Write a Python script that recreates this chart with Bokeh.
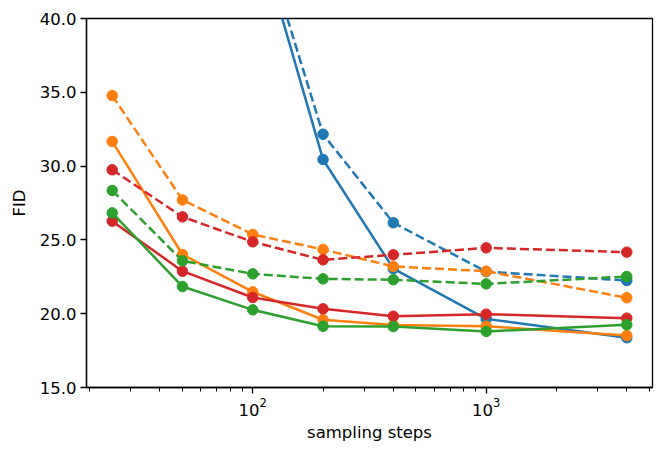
from bokeh.plotting import figure
from bokeh.models import ColumnDataSource, FixedTicker, PrintfTickFormatter, Range1d
from bokeh.embed import file_html
from bokeh.resources import INLINE

steps = [25, 50, 100, 200, 400, 1000, 4000]
blue_steps = [100, 200, 400, 1000, 4000]

blue_solid = [46.9, 30.45, 23.05, 19.65, 18.37]
blue_dashed = [47.6, 32.16, 26.16, 22.85, 22.25]
orange_solid = [31.67, 24.01, 21.48, 19.59, 19.24, 19.15, 18.52]
orange_dashed = [34.78, 27.71, 25.37, 24.35, 23.2, 22.88, 21.08]
red_solid = [26.27, 22.88, 21.1, 20.33, 19.83, 19.97, 19.7]
red_dashed = [29.75, 26.56, 24.87, 23.65, 23.99, 24.46, 24.17]
green_solid = [26.83, 21.84, 20.26, 19.15, 19.13, 18.8, 19.25]
green_dashed = [28.35, 23.58, 22.7, 22.36, 22.3, 22.02, 22.52]

x_major = [100, 1000]
x_minor = [20, 30, 40, 50, 60, 70, 80, 90, 200, 300, 400, 500, 600, 700, 800, 900,
           2000, 3000, 4000, 5000]
y_ticks = [15, 20, 25, 30, 35, 40]

BLUE, ORANGE, GREEN, RED = "#1f77b4", "#ff7f0e", "#2ca02c", "#d62728"

p = figure(frame_width=566, frame_height=369, x_axis_type="log", output_backend="svg",
           toolbar_location=None, x_range=Range1d(19.40, 5156), y_range=Range1d(15, 40),
           min_border_left=86, min_border_right=5, min_border_top=18, min_border_bottom=58)

series = [
    (blue_steps, blue_solid, BLUE, "solid"),
    (blue_steps, blue_dashed, BLUE, "9 4"),
    (steps, orange_solid, ORANGE, "solid"),
    (steps, orange_dashed, ORANGE, "9 4"),
    (steps, red_solid, RED, "solid"),
    (steps, red_dashed, RED, "9 4"),
    (steps, green_solid, GREEN, "solid"),
    (steps, green_dashed, GREEN, "9 4"),
]
for xs, ys, c, dash in series:
    src = ColumnDataSource(dict(x=xs, y=ys))
    p.line("x", "y", source=src, line_color=c, line_width=2.5, line_dash=dash)
    p.scatter("x", "y", source=src, size=10.5, fill_color=c, line_color=c)

p.xgrid.visible = False
p.ygrid.visible = False
p.outline_line_color = "black"
p.outline_line_width = 1.3
p.outline_line_alpha = 1

p.xaxis.ticker = FixedTicker(ticks=x_major, minor_ticks=x_minor)
p.yaxis.ticker = FixedTicker(ticks=y_ticks)
p.yaxis.formatter = PrintfTickFormatter(format="%.1f")
p.xaxis.axis_label = "sampling steps"
p.yaxis.axis_label = "FID"

for ax in (p.xaxis, p.yaxis):
    ax.axis_label_text_font = "DejaVu Sans"
    ax.axis_label_text_font_style = "normal"
    ax.axis_label_text_font_size = "16.5px"
    ax.axis_label_text_color = "black"
    ax.major_label_text_font = "DejaVu Sans"
    ax.major_label_text_font_size = "16.5px"
    ax.major_label_text_color = "black"
    ax.axis_line_color = "black"
    ax.axis_line_width = 1.3
    ax.major_tick_line_color = "black"
    ax.major_tick_line_width = 1.3
    ax.major_tick_out = 6
    ax.major_tick_in = 0
    ax.minor_tick_line_color = "black"
    ax.minor_tick_line_width = 1.0
    ax.minor_tick_out = 4
    ax.minor_tick_in = 0
    ax.major_label_standoff = 4
p.yaxis.minor_tick_line_color = None
p.xaxis.axis_label_standoff = 4
p.yaxis.axis_label_standoff = 8

open("out.html", "w").write(file_html(p, INLINE))
